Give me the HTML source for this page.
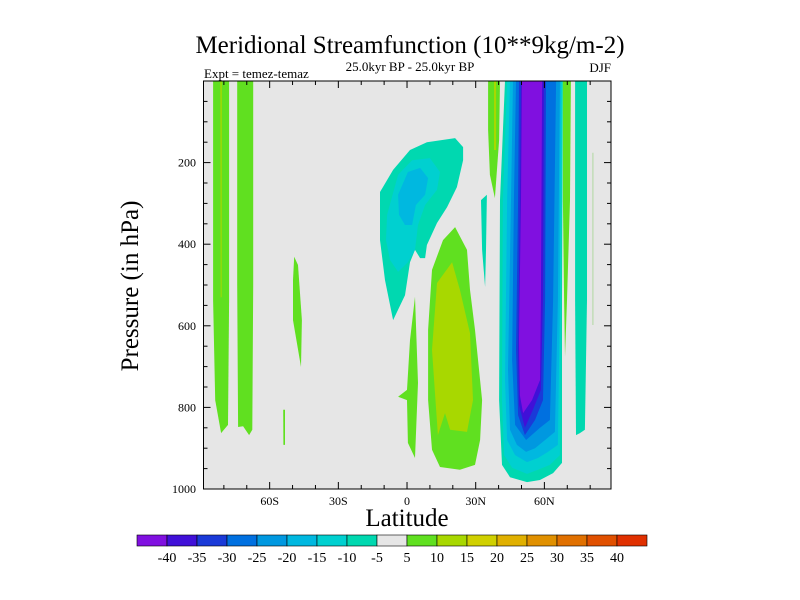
<!DOCTYPE html>
<html><head><meta charset="utf-8"><style>
body{margin:0;background:#fff}
svg{display:block;font-family:"Liberation Serif",serif}
</style></head><body>
<svg id="chart" width="800" height="600" viewBox="0 0 800 600">
<rect width="800" height="600" fill="#fff"/>
<text x="410" y="53" font-size="25" text-anchor="middle">Meridional Streamfunction (10**9kg/m-2)</text>
<text x="410" y="71" font-size="13" text-anchor="middle">25.0kyr BP - 25.0kyr BP</text>
<text x="204" y="78" font-size="13">Expt = temez-temaz</text>
<text x="611" y="72" font-size="13" text-anchor="end">DJF</text>
<text x="0" y="0" font-size="25" text-anchor="middle" transform="translate(138,286) rotate(-90)">Pressure (in hPa)</text>
<text x="407" y="526" font-size="25" text-anchor="middle">Latitude</text>
<g id="plot"></g>
<g id="axes"></g>
<g id="cbar"></g>
</svg>
<script>
const levels=[-40,-35,-30,-25,-20,-15,-10,-5,5,10,15,20,25,30,35,40];
const colors=["#8010e0","#4010d8","#1a3ad8","#0070e0","#0098e0","#00b8e0","#00d0d0","#00d8b0","#e6e6e6","#60e020","#a8d800","#d0d000","#e0b000","#e09000","#e07000","#e05000","#e03000"];
const latTicks=[-60,-30,0,30,60];
const latLabels=["60S","30S","0","30N","60N"];
const presTicks=[200,400,600,800,1000];
// contour regions: [colorIndex, polygon in (lat, hPa)]
const regionL1=[[-84.7,0],[-77.7,0],[-77.7,537],[-78.2,843],[-81.2,863],[-83.8,782],[-84.7,537]];
const regionL1y=[[-81.5,0],[-80.9,0],[-81.0,530],[-81.4,530]];
const regionL2=[[-74.2,0],[-67.2,0],[-67.2,500],[-67.6,855],[-69.0,868],[-71.6,846],[-73.8,848],[-74.2,500]];
const regionS48=[[-49.3,431],[-47.6,451],[-45.9,586],[-46.3,701],[-49.8,586],[-49.8,488]];
const regionS54=[[-54.1,806],[-53.3,806],[-53.3,892],[-54.0,892]];
const tropNeg5=[[-11.8,272],[-6.1,218],[1.3,169],[8.7,150],[21.0,140],[24.5,162],[24.5,194],[21.8,260],[17.5,309],[13.1,348],[8.7,402],[7.9,434],[5.7,434],[3.5,414],[1.3,444],[-0.9,525],[-6.1,586],[-9.6,488],[-11.8,390]];
const tropNeg10=[[-8.7,328],[-3.9,230],[2.2,194],[10.0,189],[14.4,223],[13.1,267],[7.9,304],[4.8,353],[3.5,414],[0.4,444],[-3.9,468],[-7.4,439],[-9.2,390]];
const tropNeg15=[[-3.9,279],[0.4,223],[5.7,213],[9.2,238],[7.9,279],[3.9,304],[2.2,353],[-0.9,353],[-3.5,328]];
const sub5=[[21.0,358],[26.2,414],[27.5,512],[29.7,610],[32.8,782],[31.9,880],[29.7,941],[23.1,953],[14.4,946],[10.9,904],[9.2,782],[9.2,610],[10.9,463],[15.7,390]];
const sub10=[[19.7,444],[23.1,512],[27.5,618],[28.8,782],[26.2,860],[18.8,855],[16.6,814],[13.5,868],[10.9,659],[13.1,495]];
const eq5=[[3.5,529],[4.8,740],[3.5,924],[0.4,887],[0,782],[-3.9,774],[0,757],[1.3,635]];
const n33neg=[[32.3,292],[34.9,279],[34.5,414],[34.1,505],[32.8,414]];
const n35pos=[[35.4,0],[40.6,0],[40.2,145],[38.4,287],[36.2,230],[35.4,120]];
const n35y=[[38.0,0],[38.9,0],[38.9,169],[38.0,169]];
const col5=[[42.8,0],[68.1,0],[67.7,537],[67.7,936],[63.8,961],[58.1,978],[52.4,983],[45.0,971],[41.5,941],[40.2,782],[40.6,292]];
const col10=[[43.7,0],[67.7,0],[67.2,537],[66.8,917],[62.4,941],[57.2,953],[52.4,963],[45.9,948],[42.4,917],[41.5,782],[41.9,292]];
const col15=[[45.0,0],[67.2,0],[66.8,537],[65.9,892],[61.6,909],[57.2,924],[52.4,934],[47.2,917],[43.7,880],[42.8,733],[43.7,292]];
const col20=[[46.3,0],[66.8,0],[65.9,537],[64.6,860],[60.3,880],[55.9,900],[52.0,909],[48.0,892],[45.0,855],[44.1,708],[45.4,292]];
const col25=[[47.6,0],[65.1,0],[63.8,537],[62.4,831],[58.1,850],[52.0,880],[47.2,843],[45.9,684],[46.7,292]];
const col30=[[48.9,0],[60.7,0],[60.3,537],[59.4,782],[55.9,831],[51.5,868],[48.5,819],[47.6,659],[48.5,292]];
const col35=[[49.8,0],[59.8,0],[59.4,537],[58.5,757],[55.0,806],[51.5,850],[48.9,794],[48.5,659],[49.3,292]];
const col40=[[50.2,0],[59.0,0],[58.5,537],[58.1,733],[54.6,782],[50.7,814],[49.3,770],[48.9,635],[49.8,292]];
const nGreen=[[68.1,0],[71.6,0],[71.2,292],[69.9,537],[69.0,676],[68.6,537],[68.1,292]];
const nTeal=[[73.4,0],[78.6,0],[78.6,537],[77.7,855],[75.5,863],[73.8,868],[73.4,537]];
const regions=[[9,regionL1],[10,regionL1y],[9,regionL2],[9,regionS48],[9,regionS54],
 [7,tropNeg5],[6,tropNeg10],[5,tropNeg15],[9,sub5],[10,sub10],[9,eq5],[7,n33neg],[9,n35pos],[10,n35y],
 [7,col5],[6,col10],[5,col15],[4,col20],[3,col25],[2,col30],[1,col35],[0,col40],[9,nGreen],[7,nTeal]];

const X0=203.5,X1=611,Y0=81,Y1=489,LATMIN=-88.9,LATMAX=89.1,PMIN=0,PMAX=1000;
const xs=v=>X0+(v-LATMIN)/(LATMAX-LATMIN)*(X1-X0);
const ys=p=>Y0+(p-PMIN)/(PMAX-PMIN)*(Y1-Y0);
const NS="http://www.w3.org/2000/svg";
function mk(t,a,parent){const e=document.createElementNS(NS,t);for(const k in a)e.setAttribute(k,a[k]);parent.appendChild(e);return e;}
const plot=document.getElementById('plot');
const bg=mk('rect',{x:X0,y:Y0,width:X1-X0,height:Y1-Y0,fill:colors[8]},plot);


const cp=mk('clipPath',{id:'clip'},plot);mk('rect',{x:X0,y:Y0,width:X1-X0,height:Y1-Y0},cp);
const g=mk('g',{'clip-path':'url(#clip)'},plot);
regions.forEach(([ci,poly],i)=>{
 const e=mk('polygon',{points:poly.map(([la,p])=>xs(la).toFixed(1)+','+ys(p).toFixed(1)).join(' '),fill:colors[ci]},g);
 
 
});
const ln=mk('line',{x1:xs(81.2),x2:xs(81.2),y1:ys(176),y2:ys(598),stroke:'#b0d8a0','stroke-width':1},g);


const ax=document.getElementById('axes');
const fr=mk('rect',{x:X0,y:Y0,width:X1-X0,height:Y1-Y0,fill:'none',stroke:'#000','stroke-width':1},ax);


for(let la=-80;la<=80;la+=10){const maj=la%30===0;const L=maj?7:4;
 mk('line',{x1:xs(la),x2:xs(la),y1:Y1,y2:Y1-L,stroke:'#000'},ax);mk('line',{x1:xs(la),x2:xs(la),y1:Y0,y2:Y0+L,stroke:'#000'},ax);}
for(let p=50;p<1000;p+=50){const maj=p%200===0;const L=maj?7:4;
 mk('line',{x1:X0,x2:X0+L,y1:ys(p),y2:ys(p),stroke:'#000'},ax);mk('line',{x1:X1,x2:X1-L,y1:ys(p),y2:ys(p),stroke:'#000'},ax);}
latTicks.forEach((la,i)=>{const t=mk('text',{x:xs(la),y:505,'font-size':12,'text-anchor':'middle'},ax);t.textContent=latLabels[i];
 
 });
presTicks.forEach(p=>{const t=mk('text',{x:196,y:ys(p)+4,'font-size':12,'text-anchor':'end'},ax);t.textContent=p;
 
 });
const cb=document.getElementById('cbar');
const CX=137,CW=30,CY=535,CH=11;
colors.forEach((c,i)=>{const r=mk('rect',{x:CX+i*CW,y:CY,width:CW,height:CH,fill:c,stroke:'#000','stroke-width':0.6},cb);
 
 });
levels.forEach((v,i)=>{const t=mk('text',{x:CX+(i+1)*CW,y:562,'font-size':14,'text-anchor':'middle'},cb);t.textContent=v;
 
 });
</script>
</body></html>
